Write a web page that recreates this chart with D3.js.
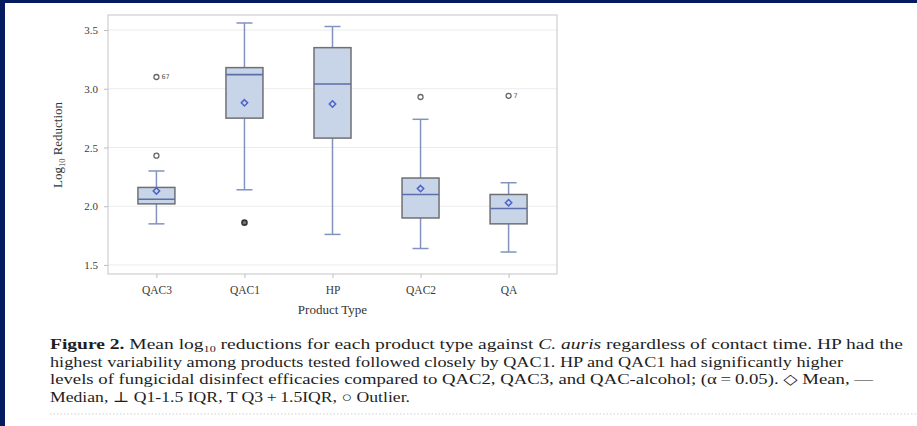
<!DOCTYPE html>
<html>
<head>
<meta charset="utf-8">
<script src="https://cdn.jsdelivr.net/npm/d3@7"></script>
<style>
  body { margin: 0; background: #fff; }
  svg { display: block; }
  text { font-family: "Liberation Serif", "DejaVu Serif", serif; }
</style>
</head>
<body>
<div id="chart"><svg></svg></div>
<script>
// product types, left to right
const categories = ["QAC3", "QAC1", "HP", "QAC2", "QA"];

// box plot stats (log10 reduction)
const whiskerLow  = [1.85, 2.14, 1.76, 1.64, 1.61];
const q1          = [2.02, 2.75, 2.58, 1.90, 1.85];
const median      = [2.06, 3.12, 3.04, 2.10, 1.98];
const q3          = [2.16, 3.18, 3.35, 2.24, 2.10];
const whiskerHigh = [2.30, 3.56, 3.53, 2.74, 2.20];
const mean        = [2.13, 2.88, 2.87, 2.15, 2.03];

// outliers
const outlierCat   = ["QAC3", "QAC3", "QAC1", "QAC2", "QA"];
const outlierValue = [3.10, 2.43, 1.86, 2.93, 2.94];
const outlierLabel = ["67", "", "", "", "7"];
const outlierDark  = [false, false, true, false, false];

const yTicks = [1.5, 2.0, 2.5, 3.0, 3.5];

const captionLines = [
    [["Figure 2.", "bold"], ["  Mean log", ""], ["10", "sub"], [" reductions for each product type against ", ""], ["C. auris", "italic"], [" regardless of contact time. HP had the", ""]],
    [["highest variability among products tested followed closely by QAC1. HP and QAC1 had significantly higher", ""]],
    [["levels of fungicidal disinfect efficacies compared to QAC2, QAC3, and QAC-alcohol; (\u03b1\u2009=\u20090.05). \u25c7 Mean, \u2014", ""]],
    [["Median, \u22a5 Q1-1.5 IQR, T Q3\u2009+\u20091.5IQR, \u25cb Outlier.", ""]]
];
const captionWidths = [853, 793, 823, 360];

let width = 917;
let height = 426;

let svg = d3.select("#chart svg")
    .attr("width", width)
    .attr("height", height);

// dark page frame
svg.append("rect").attr("x", 0).attr("y", 0).attr("width", width).attr("height", 3).attr("fill", "#041c5f");
svg.append("rect").attr("x", 0).attr("y", 0).attr("width", 5).attr("height", height).attr("fill", "#041c5f");

let plot = { left: 108, right: 557, top: 15, bottom: 274 };

const x = d3.scalePoint()
    .domain(categories)
    .range([plot.left, plot.right])
    .padding(0.55);

const y = d3.scaleLinear()
    .domain([1.423, 3.628])
    .range([plot.bottom, plot.top]);

// gridlines
svg.append("g")
    .selectAll("line")
    .data(yTicks)
    .join("line")
    .attr("x1", plot.left)
    .attr("x2", plot.right)
    .attr("y1", d => y(d))
    .attr("y2", d => y(d))
    .attr("stroke", "#ebebeb")
    .attr("stroke-width", 1);

// frame
svg.append("rect")
    .attr("x", plot.left)
    .attr("y", plot.top)
    .attr("width", plot.right - plot.left)
    .attr("height", plot.bottom - plot.top)
    .attr("fill", "none")
    .attr("stroke", "#cfcfcf")
    .attr("stroke-width", 1.2);

// axes
let yAxis = svg.append("g")
    .attr("transform", `translate(${plot.left},0)`)
    .call(d3.axisLeft(y).tickValues(yTicks).tickFormat(d3.format(".1f")).tickSize(4).tickPadding(6));

let xAxis = svg.append("g")
    .attr("transform", `translate(0,${plot.bottom})`)
    .call(d3.axisBottom(x).tickSize(4).tickPadding(8));

[yAxis, xAxis].forEach(a => {
    a.select(".domain").remove();
    a.selectAll(".tick line").attr("stroke", "#bdbdbd");
    a.selectAll(".tick text")
        .attr("fill", "#3a3a3a")
        .style("font-family", '"Liberation Serif", serif');
});
yAxis.selectAll(".tick text").attr("font-size", 11);
xAxis.selectAll(".tick text").attr("font-size", 11.5);

// axis titles
svg.append("text")
    .attr("transform", "translate(62,145) rotate(-90)")
    .attr("text-anchor", "middle")
    .attr("font-size", 13)
    .attr("fill", "#333")
    .call(t => {
        t.append("tspan").text("Log");
        t.append("tspan").attr("font-size", 8.5).attr("dy", 3).text("10");
        t.append("tspan").attr("dy", -3).text(" Reduction");
    });

svg.append("text")
    .attr("x", (plot.left + plot.right) / 2)
    .attr("y", 314)
    .attr("text-anchor", "middle")
    .attr("font-size", 13)
    .attr("fill", "#333")
    .text("Product Type");

// boxes
const boxW = 37;
const capW = 16;
const whiskerColor = "#8293c0";

let boxes = svg.append("g")
    .selectAll("g")
    .data(categories)
    .join("g")
    .attr("transform", d => `translate(${x(d)},0)`);

boxes.append("line")
    .attr("y1", (d, i) => y(whiskerLow[i]))
    .attr("y2", (d, i) => y(q1[i]))
    .attr("stroke", whiskerColor).attr("stroke-width", 1.5);

boxes.append("line")
    .attr("y1", (d, i) => y(q3[i]))
    .attr("y2", (d, i) => y(whiskerHigh[i]))
    .attr("stroke", whiskerColor).attr("stroke-width", 1.5);

boxes.append("line")
    .attr("x1", -capW / 2).attr("x2", capW / 2)
    .attr("y1", (d, i) => y(whiskerLow[i]))
    .attr("y2", (d, i) => y(whiskerLow[i]))
    .attr("stroke", whiskerColor).attr("stroke-width", 1.5);

boxes.append("line")
    .attr("x1", -capW / 2).attr("x2", capW / 2)
    .attr("y1", (d, i) => y(whiskerHigh[i]))
    .attr("y2", (d, i) => y(whiskerHigh[i]))
    .attr("stroke", whiskerColor).attr("stroke-width", 1.5);

boxes.append("rect")
    .attr("x", -boxW / 2)
    .attr("width", boxW)
    .attr("y", (d, i) => y(q3[i]))
    .attr("height", (d, i) => y(q1[i]) - y(q3[i]))
    .attr("fill", "#c8d4e8")
    .attr("stroke", "#707074")
    .attr("stroke-width", 1.5);

boxes.append("line")
    .attr("x1", -boxW / 2).attr("x2", boxW / 2)
    .attr("y1", (d, i) => y(median[i]))
    .attr("y2", (d, i) => y(median[i]))
    .attr("stroke", "#5d6fa8").attr("stroke-width", 1.6);

boxes.append("path")
    .attr("d", d3.symbol().type(d3.symbolDiamond2).size(26))
    .attr("transform", (d, i) => `translate(0,${y(mean[i])})`)
    .attr("fill", "none")
    .attr("stroke", "#4d64c8")
    .attr("stroke-width", 1.5);

// outliers
let outl = svg.append("g")
    .selectAll("g")
    .data(outlierValue)
    .join("g")
    .attr("transform", (d, i) => `translate(${x(outlierCat[i])},${y(d)})`);

outl.append("circle")
    .attr("r", 2.5)
    .attr("fill", (d, i) => outlierDark[i] ? "#777" : "none")
    .attr("stroke", (d, i) => outlierDark[i] ? "#333" : "#666")
    .attr("stroke-width", (d, i) => outlierDark[i] ? 1.6 : 1.3);

outl.append("text")
    .attr("x", 5)
    .attr("y", 2)
    .attr("font-size", 6.5)
    .attr("fill", "#555")
    .style("font-family", '"DejaVu Sans", sans-serif')
    .text((d, i) => outlierLabel[i]);

// caption
let cap = svg.append("g");
captionLines.forEach((line, li) => {
    let t = cap.append("text")
        .attr("x", 50)
        .attr("y", 349 + li * 17.5)
        .attr("font-size", 14.5)
        .attr("fill", "#1e1e1e")
        .attr("textLength", captionWidths[li])
        .attr("lengthAdjust", "spacingAndGlyphs");
    line.forEach(([str, style]) => {
        let s = t.append("tspan").text(str);
        if (style === "bold") s.attr("font-weight", "bold");
        if (style === "italic") s.attr("font-style", "italic");
        if (style === "sub") s.attr("font-size", 9).attr("dy", 3);
        if (style === "" && li === 0 && str.startsWith(" reductions")) s.attr("dy", -3);
    });
});

// dotted separator
svg.append("line")
    .attr("x1", 50).attr("x2", width)
    .attr("y1", 414).attr("y2", 414)
    .attr("stroke", "#cfcfcf")
    .attr("stroke-width", 1)
    .attr("stroke-dasharray", "1.5,2");
</script>
</body>
</html>
